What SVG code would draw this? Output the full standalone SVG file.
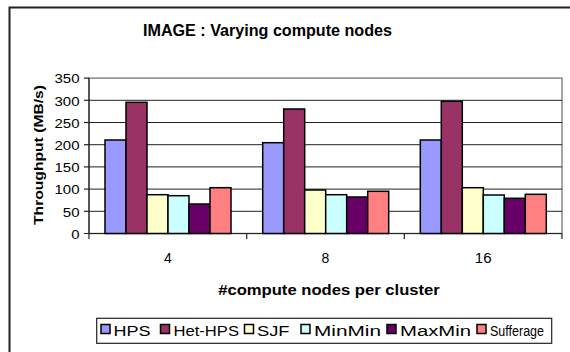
<svg xmlns="http://www.w3.org/2000/svg" width="570" height="352" viewBox="0 0 570 352">
<style>
.t{font-family:"Liberation Sans",Arial,sans-serif;fill:#000}
.b{font-weight:bold}
.tick{font-size:12px;text-anchor:end}
.cat{font-size:14px;text-anchor:middle}
.leg{font-size:14px}
.grid{stroke:#222;stroke-width:1}
.bar{stroke:#000;stroke-width:1.5}
.mk{stroke:#000;stroke-width:1.5}
.hps{fill:#9999FF}.het{fill:#993366}.sjf{fill:#FFFFCC}.mm{fill:#CCFFFF}.mx{fill:#660066}.suf{fill:#FF8080}
</style>
<rect x="0" y="0" width="570" height="352" fill="#fff"/>
<rect x="9.5" y="7.5" width="600" height="400" fill="#fff" stroke="#222" stroke-width="2"/>
<text class="t b" x="267.5" y="35.5" font-size="16" text-anchor="middle" textLength="249" lengthAdjust="spacingAndGlyphs">IMAGE : Varying compute nodes</text>
<g id="plot">
<rect x="89" y="78.1" width="473" height="155.4" fill="#fff" stroke="#888" stroke-width="1.5"/>
<g class="grid">
<line x1="89" y1="100.3" x2="562" y2="100.3"/>
<line x1="89" y1="122.5" x2="562" y2="122.5"/>
<line x1="89" y1="144.7" x2="562" y2="144.7"/>
<line x1="89" y1="166.9" x2="562" y2="166.9"/>
<line x1="89" y1="189.1" x2="562" y2="189.1"/>
<line x1="89" y1="211.3" x2="562" y2="211.3"/>
</g>
</g>
<g id="axes" stroke="#222" stroke-width="1.2">
<line x1="89" y1="78" x2="89" y2="233.5"/>
<line x1="84" y1="233.5" x2="562" y2="233.5"/>
<line x1="84" y1="78.1" x2="89" y2="78.1"/>
<line x1="84" y1="100.3" x2="89" y2="100.3"/>
<line x1="84" y1="122.5" x2="89" y2="122.5"/>
<line x1="84" y1="144.7" x2="89" y2="144.7"/>
<line x1="84" y1="166.9" x2="89" y2="166.9"/>
<line x1="84" y1="189.1" x2="89" y2="189.1"/>
<line x1="84" y1="211.3" x2="89" y2="211.3"/>
<line x1="89" y1="233.5" x2="89" y2="239"/>
<line x1="246.7" y1="233.5" x2="246.7" y2="239"/>
<line x1="404.3" y1="233.5" x2="404.3" y2="239"/>
<line x1="562" y1="233.5" x2="562" y2="239"/>
</g>
<g id="ticklabels">
<text class="t tick" x="79.5" y="83.3" textLength="25" lengthAdjust="spacingAndGlyphs">350</text>
<text class="t tick" x="79.5" y="105.5" textLength="25" lengthAdjust="spacingAndGlyphs">300</text>
<text class="t tick" x="79.5" y="127.7" textLength="25" lengthAdjust="spacingAndGlyphs">250</text>
<text class="t tick" x="79.5" y="149.9" textLength="25" lengthAdjust="spacingAndGlyphs">200</text>
<text class="t tick" x="79.5" y="172.1" textLength="25" lengthAdjust="spacingAndGlyphs">150</text>
<text class="t tick" x="79.5" y="194.3" textLength="25" lengthAdjust="spacingAndGlyphs">100</text>
<text class="t tick" x="79.5" y="216.5" textLength="16.7" lengthAdjust="spacingAndGlyphs">50</text>
<text class="t tick" x="79.5" y="238.7" textLength="8.3" lengthAdjust="spacingAndGlyphs">0</text>
<text class="t cat" x="168" y="263.3">4</text>
<text class="t cat" x="325.5" y="263.3">8</text>
<text class="t cat" x="483.2" y="263.3" textLength="16.7" lengthAdjust="spacingAndGlyphs">16</text>
</g>
<text class="t b" transform="translate(42.5,155) rotate(-90)" x="0" y="0" font-size="13" text-anchor="middle" textLength="140" lengthAdjust="spacingAndGlyphs">Throughput (MB/s)</text>
<text class="t b" x="329" y="295" font-size="15" text-anchor="middle" textLength="221.7" lengthAdjust="spacingAndGlyphs">#compute nodes per cluster</text>
<g id="bars">
<g id="cat-4">
<rect class="bar hps" x="105" y="140" width="21" height="93.5"/>
<rect class="bar het" x="126" y="102.3" width="21" height="131.2"/>
<rect class="bar sjf" x="147" y="194.7" width="21" height="38.8"/>
<rect class="bar mm" x="168" y="195.7" width="21" height="37.8"/>
<rect class="bar mx" x="189" y="204" width="21" height="29.5"/>
<rect class="bar suf" x="210" y="187.7" width="21" height="45.8"/>
</g>
<g id="cat-8">
<rect class="bar hps" x="262.7" y="142.7" width="21" height="90.8"/>
<rect class="bar het" x="283.7" y="109" width="21" height="124.5"/>
<rect class="bar sjf" x="304.7" y="190" width="21" height="43.5"/>
<rect class="bar mm" x="325.7" y="194.7" width="21" height="38.8"/>
<rect class="bar mx" x="346.7" y="197" width="21" height="36.5"/>
<rect class="bar suf" x="367.7" y="191.3" width="21" height="42.2"/>
</g>
<g id="cat-16">
<rect class="bar hps" x="420.3" y="140" width="21" height="93.5"/>
<rect class="bar het" x="441.3" y="101.3" width="21" height="132.2"/>
<rect class="bar sjf" x="462.3" y="187.7" width="21" height="45.8"/>
<rect class="bar mm" x="483.3" y="195" width="21" height="38.5"/>
<rect class="bar mx" x="504.3" y="198.3" width="21" height="35.2"/>
<rect class="bar suf" x="525.3" y="194.3" width="21" height="39.2"/>
</g>
</g>
<g id="legend">
<rect x="96.7" y="318.3" width="455" height="25" fill="#fff" stroke="#222" stroke-width="1.2"/>
<rect class="mk hps" x="101" y="324.5" width="9" height="9"/>
<text class="t leg" x="113.5" y="336" textLength="37" lengthAdjust="spacingAndGlyphs">HPS</text>
<rect class="mk het" x="160.5" y="324.5" width="9" height="9"/>
<text class="t leg" x="173.5" y="336" textLength="65.5" lengthAdjust="spacingAndGlyphs">Het-HPS</text>
<rect class="mk sjf" x="244.5" y="324.5" width="9" height="9"/>
<text class="t leg" x="257" y="336" textLength="32.5" lengthAdjust="spacingAndGlyphs">SJF</text>
<rect class="mk mm" x="301" y="324.5" width="9" height="9"/>
<text class="t leg" x="314" y="336" textLength="67" lengthAdjust="spacingAndGlyphs">MinMin</text>
<rect class="mk mx" x="387" y="324.5" width="9" height="9"/>
<text class="t leg" x="400" y="336" textLength="71" lengthAdjust="spacingAndGlyphs">MaxMin</text>
<rect class="mk suf" x="477" y="324.5" width="9" height="9"/>
<text class="t leg" x="490" y="336" textLength="54" lengthAdjust="spacingAndGlyphs">Sufferage</text>
</g>
</svg>
